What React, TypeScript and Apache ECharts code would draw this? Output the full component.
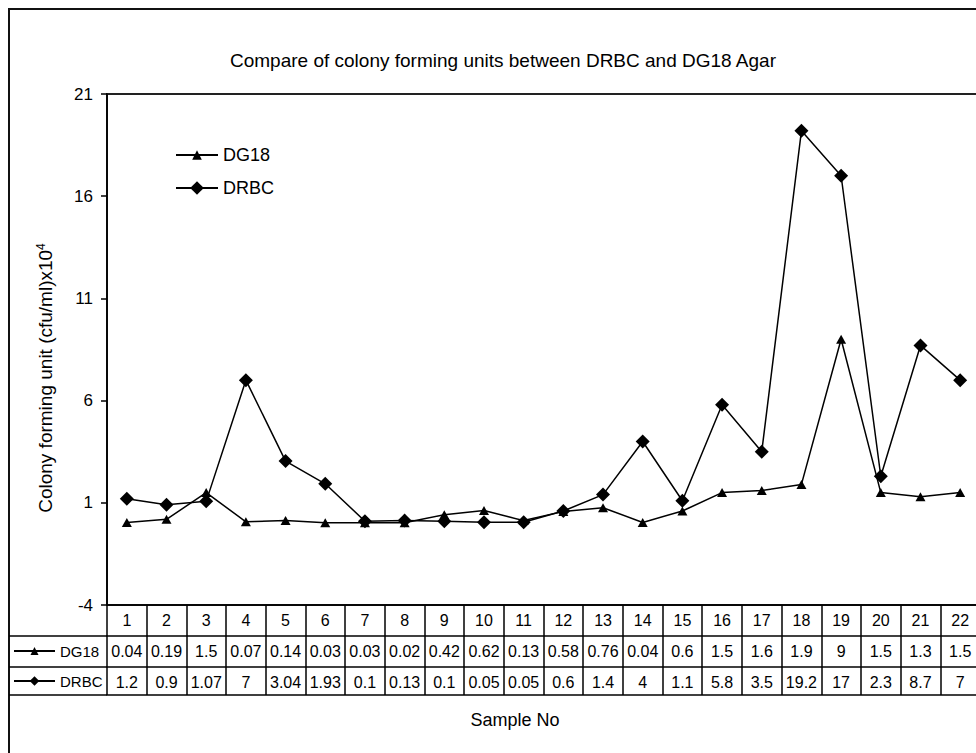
import React, { useEffect, useRef } from "react";
import * as echarts from "echarts";

const categories = ["1","2","3","4","5","6","7","8","9","10","11","12","13","14","15","16","17","18","19","20","21","22"];
const dg18 = [0.04,0.19,1.5,0.07,0.14,0.03,0.03,0.02,0.42,0.62,0.13,0.58,0.76,0.04,0.6,1.5,1.6,1.9,9,1.5,1.3,1.5];
const drbc = [1.2,0.9,1.07,7,3.04,1.93,0.1,0.13,0.1,0.05,0.05,0.6,1.4,4,1.1,5.8,3.5,19.2,17,2.3,8.7,7];
const seriesNames = ["DG18", "DRBC"];
const yMin = -4;
const yMax = 21;
const yInterval = 5;
const titleText = "Compare of colony forming units between DRBC and DG18 Agar";
const yName = "Colony forming unit (cfu/ml)x10";
const xName = "Sample No";

const FONT = "'Liberation Sans', Arial, sans-serif";

export default function App() {
  const ref = useRef<HTMLDivElement>(null);
  useEffect(() => {
    if (!ref.current) return;
    const chart = echarts.init(ref.current, undefined, { renderer: "svg" });
    const gridLeft = 99, gridTop = 86, gridW = 873, gridH = 511;
    const lineCol = "#000";
    const catAxis = (offset: number, labels: ((i: number) => string) | null, tickLen: number) => ({
      type: "category",
      gridIndex: 0,
      position: "bottom",
      offset,
      data: categories,
      boundaryGap: true,
      axisLine: { show: true, onZero: false, lineStyle: { color: lineCol, width: 1.5 } },
      axisTick: { show: tickLen > 0, interval: 0, length: tickLen, lineStyle: { color: lineCol, width: 1.5 } },
      axisLabel: labels
        ? {
            show: true,
            interval: 0,
            margin: 7,
            fontSize: 16,
            lineHeight: 17,
            color: "#000",
            fontFamily: FONT,
            formatter: (_v: string, i: number) => labels(i),
          }
        : { show: false },
      splitLine: { show: false },
    });
    chart.setOption({
      animation: false,
      textStyle: { fontFamily: FONT },
      grid: {
        left: gridLeft,
        top: gridTop,
        width: gridW,
        height: gridH,
        show: true,
        borderColor: "#222",
        borderWidth: 2,
        backgroundColor: "transparent",
      },
      xAxis: [
        catAxis(0, (i) => categories[i], 31),
        catAxis(31, (i) => String(dg18[i]), 31),
        catAxis(62, (i) => String(drbc[i]), 28),
        catAxis(90, null, 0),
      ],
      yAxis: {
        type: "value",
        min: yMin,
        max: yMax,
        interval: yInterval,
        axisLine: { show: true, onZero: false, lineStyle: { color: lineCol, width: 1.5 } },
        axisTick: { show: true, length: 6, lineStyle: { color: lineCol, width: 1.5 } },
        axisLabel: { fontSize: 17, color: "#000", margin: 14, fontFamily: FONT },
        splitLine: { show: false },
      },
      legend: [
        {
          data: [seriesNames[0]], left: 167, top: 137, padding: 0, itemWidth: 42, itemHeight: 12,
          selectedMode: false, textStyle: { fontSize: 18, lineHeight: 20, color: "#000", fontFamily: FONT },
        },
        {
          data: [seriesNames[1]], left: 167, top: 170, padding: 0, itemWidth: 42, itemHeight: 17,
          selectedMode: false, textStyle: { fontSize: 18, lineHeight: 20, color: "#000", fontFamily: FONT },
        },
        {
          data: [seriesNames[0]], left: 5, top: 634, padding: 0, itemWidth: 41, itemHeight: 10,
          selectedMode: false, textStyle: { fontSize: 15, lineHeight: 18, color: "#000", fontFamily: FONT },
        },
        {
          data: [seriesNames[1]], left: 5, top: 664, padding: 0, itemWidth: 41, itemHeight: 12,
          selectedMode: false, textStyle: { fontSize: 15, lineHeight: 18, color: "#000", fontFamily: FONT },
        },
      ],
      series: [
        {
          name: seriesNames[0],
          type: "line",
          data: dg18,
          symbol: "triangle",
          symbolSize: [10, 9],
          showAllSymbol: true,
          lineStyle: { color: "#000", width: 1.5 },
          itemStyle: { color: "#000" },
        },
        {
          name: seriesNames[1],
          type: "line",
          data: drbc,
          symbol: "diamond",
          symbolSize: 14,
          showAllSymbol: true,
          lineStyle: { color: "#000", width: 1.5 },
          itemStyle: { color: "#000" },
        },
      ],
      graphic: [
        {
          type: "rect",
          silent: true,
          shape: { x: 1, y: 1, width: 1200, height: 1200 },
          style: { fill: "none", stroke: "#111", lineWidth: 2 },
        },
        {
          type: "text",
          x: 495,
          y: 52,
          style: {
            text: titleText,
            fontSize: 19,
            fontFamily: FONT,
            fill: "#000",
            align: "center",
            verticalAlign: "middle",
          },
        },
        {
          type: "text",
          x: 37,
          y: 370,
          rotation: Math.PI / 2,
          style: {
            text: "{a|" + yName + "}{b|4}",
            fill: "#000",
            align: "center",
            verticalAlign: "middle",
            rich: {
              a: { fontSize: 19, fontFamily: FONT, fill: "#000", lineHeight: 21 },
              b: { fontSize: 12, fontFamily: FONT, fill: "#000", verticalAlign: "top", lineHeight: 21 },
            },
          },
        },
        {
          type: "text",
          x: 507,
          y: 712,
          style: {
            text: xName,
            fontSize: 18,
            fontFamily: FONT,
            fill: "#000",
            align: "center",
            verticalAlign: "middle",
          },
        },
        { type: "line", shape: { x1: 1, y1: 628, x2: 99, y2: 628 }, style: { stroke: lineCol, lineWidth: 1.5 } },
        { type: "line", shape: { x1: 1, y1: 659, x2: 99, y2: 659 }, style: { stroke: lineCol, lineWidth: 1.5 } },
        { type: "line", shape: { x1: 1, y1: 687, x2: 99, y2: 687 }, style: { stroke: lineCol, lineWidth: 1.5 } },
      ],
    });
    return () => chart.dispose();
  }, []);
  return (
    <div style={{ position: "fixed", left: 8, top: 8, width: 968, height: 745, overflow: "hidden", background: "#fff" }}>
      <div ref={ref} style={{ width: 1000, height: 745 }} />
    </div>
  );
}
